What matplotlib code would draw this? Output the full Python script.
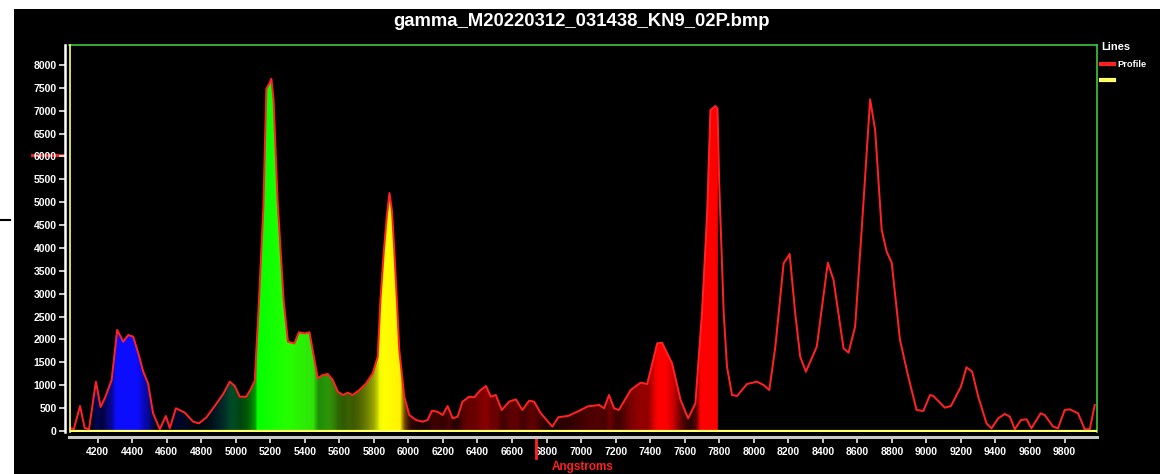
import numpy as np
import matplotlib
matplotlib.use("Agg")
import matplotlib.pyplot as plt
from matplotlib.lines import Line2D
from matplotlib.patches import Rectangle
import matplotlib.transforms as mtransforms

plt.rcParams['font.family'] = ['Liberation Sans', 'DejaVu Sans']

# ---- spectrum profile (Angstroms, intensity) ----
wavelength = [
    4040, 4062, 4098, 4125, 4150, 4190, 4217, 4242, 4281, 4313, 4348, 4377, 4406,
    4435, 4464, 4492, 4521, 4560, 4595, 4618, 4653, 4705, 4753, 4787, 4830, 4878,
    4926, 4965, 4994, 5023, 5061, 5084, 5110, 5135, 5160, 5177, 5195, 5206, 5219,
    5242, 5277, 5302, 5340, 5365, 5398, 5427, 5475, 5504, 5533, 5562, 5591, 5620,
    5649, 5677, 5716, 5755, 5793, 5822, 5838, 5858, 5875, 5890, 5905, 5918, 5933,
    5947, 5976, 6005, 6044, 6082, 6111, 6136, 6168, 6198, 6227, 6256, 6285, 6313,
    6352, 6381, 6414, 6449, 6477, 6506, 6541, 6583, 6622, 6660, 6699, 6728, 6767,
    6833, 6868, 6925, 6982, 7040, 7105, 7133, 7162, 7191, 7219, 7287, 7345, 7383,
    7441, 7469, 7527, 7576, 7620, 7662, 7700, 7730, 7749, 7778, 7790, 7800, 7826,
    7845, 7874, 7903, 7961, 8019, 8057, 8090, 8125, 8173, 8208, 8240, 8269, 8302,
    8365, 8429, 8462, 8520, 8549, 8587, 8625, 8674, 8703, 8741, 8770, 8799, 8847,
    8895, 8943, 8982, 9021, 9040, 9107, 9142, 9200, 9232, 9265, 9300, 9348, 9377,
    9416, 9454, 9483, 9512, 9547, 9580, 9608, 9662, 9685, 9734, 9762, 9801, 9830,
    9878, 9917, 9946, 9975,
]
profile = [
    65, 40, 546, 65, 40, 1077, 525, 721, 1115, 2208, 1952, 2098, 2062,
    1705, 1296, 1042, 387, 40, 328, 60, 496, 400, 204, 168, 299, 546,
    802, 1077, 984, 750, 750, 896, 1100, 2900, 4900, 7480, 7600, 7700, 7235,
    5050, 2860, 1952, 1916, 2157, 2135, 2157, 1152, 1224, 1246, 1115, 860, 787,
    838, 787, 896, 1042, 1261, 1625, 2863, 3956, 4700, 5200, 4800, 3956, 2863,
    1770, 750, 350, 240, 204, 240, 444, 422, 350, 546, 277, 313, 641,
    750, 736, 881, 984, 750, 787, 459, 641, 692, 459, 663, 641, 387,
    94, 300, 330, 430, 540, 568, 496, 787, 496, 459, 896, 1056, 1027,
    1916, 1930, 1479, 678, 277, 605, 2572, 4757, 7016, 7104, 7050, 5400, 2572,
    1405, 787, 765, 1027, 1077, 1005, 896, 1843, 3665, 3869, 2572, 1625, 1296,
    1843, 3679, 3301, 1807, 1712, 2280, 4393, 7250, 6579, 4393, 3919, 3679, 1989,
    1187, 459, 437, 787, 765, 510, 546, 968, 1392, 1296, 750, 168, 59,
    277, 372, 313, 37, 240, 255, 59, 387, 350, 94, 59, 459, 474,
    387, 37, 37, 568,
]
# second (empty) line series sitting on zero
second_series = [0, 0]
second_span = [4037, 9988]

x_ticks = list(range(4200, 9801, 200))
y_ticks = list(range(0, 8001, 500))
title = "gamma_M20220312_031438_KN9_02P.bmp"
x_label = "Angstroms"
legend_title = "Lines"
legend_labels = ["Profile", ""]

# colour stops used to paint the area under the visible part of the profile
fill_start, fill_end = 4037, 7792
stop_wl = [4037, 4150, 4250, 4500, 4700, 4900, 5000, 5100, 5300, 5500, 5700,
           5850, 5950, 5985, 6020, 7792]
stop_rgb = [(0, 0, 0), (0, 0, 0.35), (0.05, 0.05, 1.0), (0.05, 0.05, 1.0),
            (0.0, 0.1, 0.6), (0.0, 0.35, 0.4), (0.0, 0.55, 0.2), (0.0, 1.0, 0.0),
            (0.15, 1.0, 0.0), (0.2, 0.85, 0.05), (0.6, 0.8, 0.0), (1.0, 1.0, 0.0),
            (1.0, 0.95, 0.0), (1.0, 0.5, 0.0), (1.0, 0.0, 0.0), (1.0, 0.0, 0.0)]

W, H = 1160, 474
fig = plt.figure(figsize=(W / 100, H / 100), dpi=100, facecolor='black')

# white margins along the top and left edge
fig.patches.append(Rectangle((0, 1 - 9 / H), 1, 9 / H, transform=fig.transFigure,
                             facecolor='white', edgecolor='none', zorder=-5))
fig.patches.append(Rectangle((0, 0), 14 / W, 1, transform=fig.transFigure,
                             facecolor='white', edgecolor='none', zorder=-5))
fig.add_artist(Line2D([0, 10 / W], [1 - 220 / H] * 2, color='black', lw=1.5,
                      transform=fig.transFigure))

ax = fig.add_axes([69.5 / W, 1 - 432 / H, (1097 - 69.5) / W, (432 - 45) / H])
ax.set_facecolor('black')
ax.set_xlim(4037, 9988)
ax.set_ylim(-22, 8437)

wl = np.asarray(wavelength, float)
pv = np.asarray(profile, float)

# coloured area under the profile, column by column
cols = np.linspace(fill_start, fill_end, 1600)
col_val = np.interp(cols, wl, pv)
rgb = np.stack([np.interp(cols, stop_wl, [c[i] for c in stop_rgb]) for i in range(3)], axis=-1)
bright = np.clip(col_val / 1800.0, 0.08, 1.0)
img = (rgb * bright[:, None])[None, :, :]
mask = wl <= fill_end
xs = np.concatenate([wl[mask], [fill_end]])
ys = np.concatenate([pv[mask], [np.interp(fill_end, wl, pv)]])
poly = ax.fill_between(xs, ys, 0, facecolor='none', edgecolor='none')
im = ax.imshow(img, extent=[fill_start, fill_end, 0, 8437], aspect='auto',
               interpolation='bilinear', origin='lower', zorder=1)
im.set_clip_path(poly.get_paths()[0], transform=ax.transData)

line_profile, = ax.plot(wl, pv, color='#ff2222', lw=1.45, zorder=3)
line_second, = ax.plot(second_span, second_series, color='#ffff66', lw=1.6, zorder=4)

# frame
for side in ('top', 'right'):
    ax.spines[side].set_color('#3cc83c')
    ax.spines[side].set_linewidth(1.2)
ax.spines['left'].set_position(('outward', 3.6))
ax.spines['left'].set_color('white')
ax.spines['left'].set_linewidth(1.8)
ax.spines['bottom'].set_position(('outward', 3.6))
ax.spines['bottom'].set_color('#c8c8c8')
ax.spines['bottom'].set_linewidth(2.2)
ax.add_line(Line2D([0, 0], [0, 1], transform=ax.transAxes, color='#ffff66',
                   lw=1.2, clip_on=False, zorder=5))

ax.set_xticks(x_ticks)
ax.set_yticks(y_ticks)
ax.tick_params(axis='both', colors='white', length=4, width=1.1, direction='out')
ax.tick_params(axis='x', pad=3)
ax.tick_params(axis='y', pad=1.5)
for lab in ax.get_xticklabels() + ax.get_yticklabels():
    lab.set_fontsize(7.5)
    lab.set_fontweight('bold')
    lab.set_color('white')

# cursor marks on the axes
fig.add_artist(Line2D([32 / W, 63 / W], [1 - 155 / H] * 2, color='#ff2020', lw=2,
                      transform=fig.transFigure, zorder=-1))
blend = mtransforms.blended_transform_factory(ax.transData, ax.transAxes)
ax.add_line(Line2D([6738, 6738], [-5 / 387, -26 / 387], transform=blend,
                   color='#ff2020', lw=2, clip_on=False))

fig.text(582 / W, 1 - 22 / H, title, ha='center', va='center', color='white',
         fontsize=13.3, fontweight='bold')
fig.text(552 / W, 1 - 467 / H, x_label, ha='left', va='center', color='#ff2020',
         fontsize=8.5, fontweight='bold')

handles = [Line2D([], [], color='#ff2222', lw=3), Line2D([], [], color='#ffff66', lw=3)]
leg = ax.legend(handles, legend_labels, title=legend_title, loc='upper left',
                bbox_to_anchor=(1101 / W, 1 - 42 / H), bbox_transform=fig.transFigure,
                frameon=False, fontsize=6.7, title_fontsize=8, handlelength=1.45,
                handletextpad=0.35, labelspacing=0.75, borderpad=0, borderaxespad=0,
                alignment='left')
leg._legend_box.sep = 6
for t in leg.get_texts():
    t.set_color('white')
    t.set_fontweight('bold')
leg.get_title().set_color('white')
leg.get_title().set_fontweight('bold')

fig.savefig('out.png', dpi=100, facecolor='black')
